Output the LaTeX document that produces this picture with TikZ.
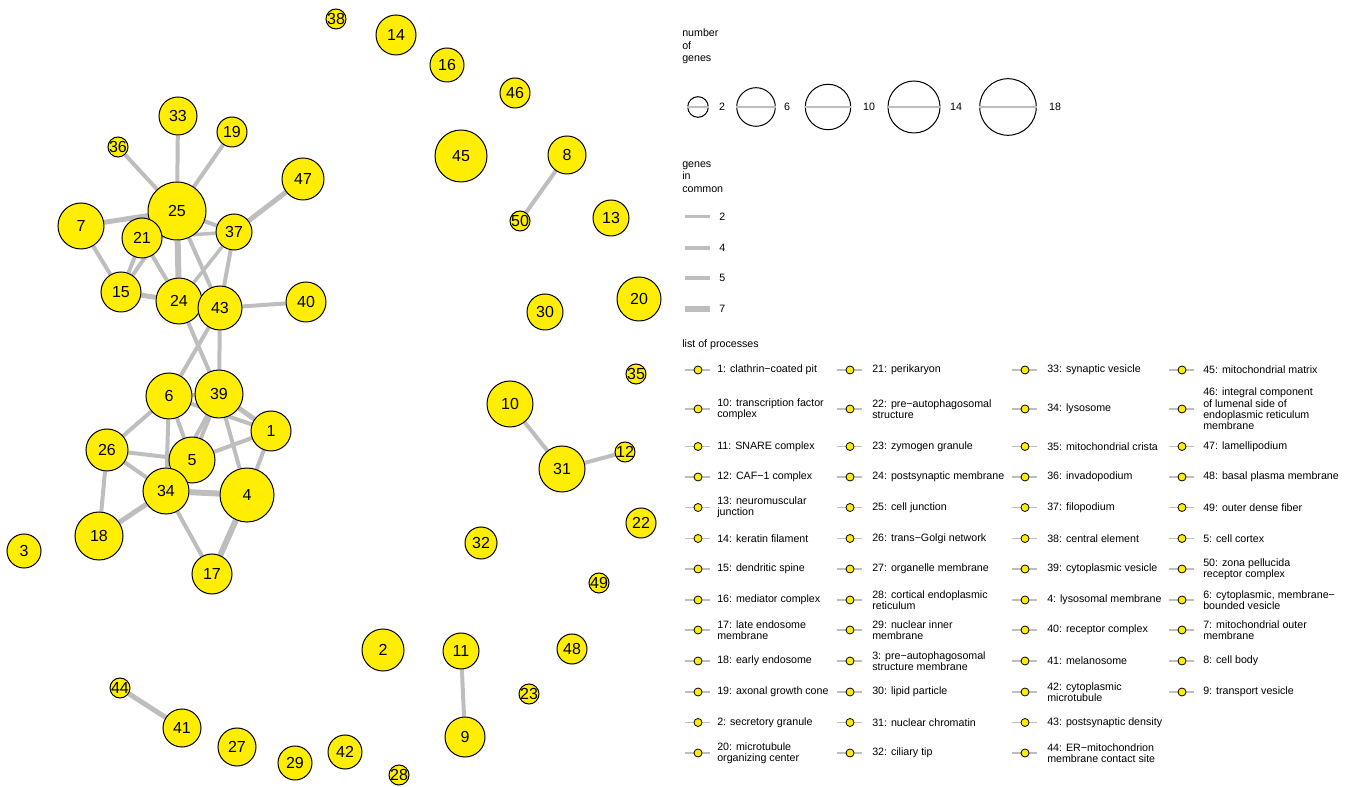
\documentclass[tikz,border=0pt]{standalone}
\usepackage{fontspec}
\setmainfont{Liberation Sans}
\usetikzlibrary{backgrounds}
\definecolor{vy}{RGB}{255,238,0}
\definecolor{eg}{RGB}{190,190,190}
\newcommand\vt[4]{\node[vtx=#4, label={[lbl]center:#1}] (n#1) at (#2,#3) {};}
\newcommand\ed[3]{\draw[edge, line width=#3*0.75pt] (n#1) -- (n#2);}
\newcommand\li[5]{%
  \draw[legline] (#1-13,#3) -- (#1+12,#3);
  \node[mk] (m#4) at (#1,#3) {};
  \node[lt] (t#4) at (#2,#3) {#5};}
\newcommand\sz[4]{%
  \node[szc, minimum size={#3*1.5pt}] (s#4) at (#1,#2) {};
  \draw[legline, line width=1.1pt] (s#4.west) -- (s#4.east);}
\begin{document}
\begin{tikzpicture}[x=0.75pt,y=-0.75pt,
  vtx/.style={circle,draw=black,line width=0.75pt,fill=vy,inner sep=0pt,minimum size={#1*1.5pt}},
  lbl/.style={inner sep=0pt,font=\fontsize{12}{14}\selectfont},
  edge/.style={draw=eg,line cap=butt},
  legline/.style={draw=eg,line width=0.9pt},
  mk/.style={circle,draw=black,line width=0.6pt,fill=vy,inner sep=0pt,minimum size=6pt},
  lt/.style={anchor=west,align=left,inner sep=0pt,font=\fontsize{8}{8.5}\selectfont},
  tt/.style={anchor=base west,inner sep=0pt,font=\fontsize{8}{9}\selectfont},
  st/.style={inner sep=0pt,font=\fontsize{8}{9}\selectfont},
  szc/.style={circle,draw=black,line width=0.75pt,inner sep=0pt},
  bar/.style={draw=eg}]
\useasboundingbox (0,0) rectangle (1354,787);
% vertices
\vt{38}{336}{19}{10}
\vt{14}{396}{35}{20}
\vt{16}{447}{65}{17}
\vt{46}{515}{93}{15}
\vt{45}{461}{156}{26}
\vt{8}{567}{155}{19}
\vt{50}{520}{221}{10}
\vt{13}{611}{218}{18}
\vt{20}{639}{299}{22}
\vt{30}{545}{312}{18}
\vt{35}{636}{374}{10}
\vt{10}{510}{404}{23}
\vt{31}{562}{469}{23}
\vt{12}{625}{452}{10}
\vt{22}{641}{523}{15}
\vt{32}{481}{543}{16}
\vt{49}{599}{583}{10}
\vt{2}{383}{650}{21}
\vt{11}{461}{651}{18}
\vt{48}{572}{649}{15}
\vt{23}{529}{694}{10}
\vt{9}{465}{737}{20}
\vt{28}{399}{775}{10}
\vt{42}{345}{752}{17}
\vt{29}{295}{763}{17}
\vt{27}{237}{747}{19}
\vt{41}{182}{728}{19}
\vt{44}{120}{688}{10}
\vt{3}{24}{551}{17}
\vt{33}{178}{116}{19}
\vt{19}{232}{132}{15}
\vt{36}{118}{147}{10}
\vt{47}{303}{179}{21}
\vt{25}{177}{211}{29}
\vt{7}{81}{226}{23}
\vt{21}{142}{238}{20}
\vt{37}{234}{232}{18}
\vt{15}{121}{292}{20}
\vt{24}{179}{301}{23}
\vt{43}{220}{308}{22}
\vt{40}{306}{302}{20}
\vt{6}{169}{396}{23}
\vt{39}{219}{394}{24}
\vt{1}{271}{431}{20}
\vt{26}{107}{450}{21}
\vt{5}{192}{460}{23}
\vt{34}{166}{491}{23}
\vt{4}{247}{495}{27}
\vt{18}{99}{536}{24}
\vt{17}{212}{574}{20}
% edges
\begin{pgfonlayer}{background}
\ed{25}{36}{4}
\ed{25}{33}{4}
\ed{25}{19}{4}
\ed{25}{7}{5}
\ed{25}{37}{4}
\ed{21}{37}{3.5}
\ed{37}{47}{5}
\ed{7}{15}{4}
\ed{21}{15}{4}
\ed{15}{25}{4}
\ed{21}{24}{4}
\ed{25}{24}{6}
\ed{25}{43}{4}
\ed{37}{24}{3.5}
\ed{37}{43}{4}
\ed{15}{24}{5}
\ed{43}{40}{4}
\ed{24}{39}{4}
\ed{43}{6}{4}
\ed{43}{39}{4}
\ed{6}{39}{4}
\ed{6}{26}{4}
\ed{6}{34}{4}
\ed{6}{5}{4}
\ed{6}{1}{4}
\ed{39}{5}{4}
\ed{39}{34}{4}
\ed{39}{4}{4}
\ed{39}{1}{5}
\ed{1}{5}{4}
\ed{1}{4}{4}
\ed{26}{5}{4}
\ed{26}{34}{4}
\ed{26}{18}{4}
\ed{34}{18}{5}
\ed{34}{4}{6}
\ed{34}{17}{4}
\ed{4}{17}{6}
\ed{8}{50}{4}
\ed{10}{31}{4}
\ed{31}{12}{4}
\ed{11}{9}{4}
\ed{44}{41}{5}
\end{pgfonlayer}
% legend: number of genes
\node[tt] (ng1) at (682,37) {number};
\node[tt] (ng2) at (682,49.5) {of};
\node[tt] (ng3) at (682,62) {genes};
\sz{698}{107}{10.3}{a}
\sz{756}{107}{19.3}{b}
\sz{828}{107}{22.7}{c}
\sz{914}{107}{26}{d}
\sz{1008}{107}{28.3}{e}
\node[st] (sla) at (722,107) {2};
\node[st] (slb) at (787,107) {6};
\node[st] (slc) at (869,107) {10};
\node[st] (sld) at (956,107) {14};
\node[st] (sle) at (1055,107) {18};
% legend: genes in common
\node[tt] (gc1) at (682,167.5) {genes};
\node[tt] (gc2) at (682,180) {in};
\node[tt] (gc3) at (682,193) {common};
\draw[bar, line width=2.25pt] (685,217) -- (710,217);
\draw[bar, line width=3pt] (685,248) -- (710,248);
\draw[bar, line width=3.6pt] (685,278) -- (710,278);
\draw[bar, line width=4.3pt] (685,309) -- (710,309);
\node[st,anchor=west] (gl1) at (719,217) {2};
\node[st,anchor=west] (gl2) at (719,248) {4};
\node[st,anchor=west] (gl3) at (719,278) {5};
\node[st,anchor=west] (gl4) at (719,309) {7};
% list of processes
\node[tt] (lop) at (682,347.5) {list of processes};
% column 1
\li{698}{717}{370}{1}{1: clathrin−coated pit}
\li{698}{717}{409}{10}{10: transcription factor\\complex}
\li{698}{717}{446.5}{11}{11: SNARE complex}
\li{698}{717}{477}{12}{12: CAF−1 complex}
\li{698}{717}{507.5}{13}{13: neuromuscular\\junction}
\li{698}{717}{538.5}{14}{14: keratin filament}
\li{698}{717}{569}{15}{15: dendritic spine}
\li{698}{717}{600}{16}{16: mediator complex}
\li{698}{717}{630}{17}{17: late endosome\\membrane}
\li{698}{717}{661}{18}{18: early endosome}
\li{698}{717}{692}{19}{19: axonal growth cone}
\li{698}{717}{722.5}{2}{2: secretory granule}
\li{698}{717}{753}{20}{20: microtubule\\organizing center}
% column 2
\li{850}{872}{370}{21}{21: perikaryon}
\li{850}{872}{409}{22}{22: pre−autophagosomal\\structure}
\li{850}{872}{446.5}{23}{23: zymogen granule}
\li{850}{872}{477}{24}{24: postsynaptic membrane}
\li{850}{872}{507.5}{25}{25: cell junction}
\li{850}{872}{538.5}{26}{26: trans−Golgi network}
\li{850}{872}{569}{27}{27: organelle membrane}
\li{850}{872}{600}{28}{28: cortical endoplasmic\\reticulum}
\li{850}{872}{630}{29}{29: nuclear inner\\membrane}
\li{850}{872}{661}{3}{3: pre−autophagosomal\\structure membrane}
\li{850}{872}{692}{30}{30: lipid particle}
\li{850}{872}{722.5}{31}{31: nuclear chromatin}
\li{850}{872}{753}{32}{32: ciliary tip}
% column 3
\li{1025}{1047}{370}{33}{33: synaptic vesicle}
\li{1025}{1047}{409}{34}{34: lysosome}
\li{1025}{1047}{446.5}{35}{35: mitochondrial crista}
\li{1025}{1047}{477}{36}{36: invadopodium}
\li{1025}{1047}{507.5}{37}{37: filopodium}
\li{1025}{1047}{538.5}{38}{38: central element}
\li{1025}{1047}{569}{39}{39: cytoplasmic vesicle}
\li{1025}{1047}{600}{4}{4: lysosomal membrane}
\li{1025}{1047}{630}{40}{40: receptor complex}
\li{1025}{1047}{661}{41}{41: melanosome}
\li{1025}{1047}{692}{42}{42: cytoplasmic\\microtubule}
\li{1025}{1047}{722.5}{43}{43: postsynaptic density}
\li{1025}{1047}{753}{44}{44: ER−mitochondrion\\membrane contact site}
% column 4
\li{1182}{1203}{370}{45}{45: mitochondrial matrix}
\li{1182}{1203}{409}{46}{46: integral component\\of lumenal side of\\endoplasmic reticulum\\membrane}
\li{1182}{1203}{446.5}{47}{47: lamellipodium}
\li{1182}{1203}{477}{48}{48: basal plasma membrane}
\li{1182}{1203}{507.5}{49}{49: outer dense fiber}
\li{1182}{1203}{538.5}{5}{5: cell cortex}
\li{1182}{1203}{569}{50}{50: zona pellucida\\receptor complex}
\li{1182}{1203}{600}{6}{6: cytoplasmic, membrane−\\bounded vesicle}
\li{1182}{1203}{630}{7}{7: mitochondrial outer\\membrane}
\li{1182}{1203}{661}{8}{8: cell body}
\li{1182}{1203}{692}{9}{9: transport vesicle}
\end{tikzpicture}
\end{document}
